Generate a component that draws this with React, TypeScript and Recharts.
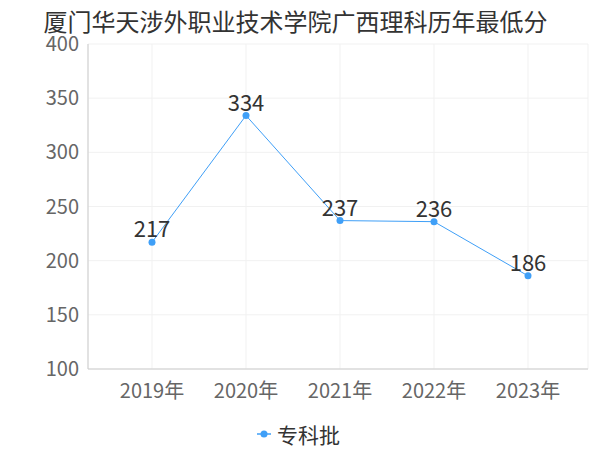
import React from "react";
import { LineChart, Line, XAxis, YAxis, CartesianGrid, LabelList } from "recharts";

const title = "厦门华天涉外职业技术学院广西理科历年最低分";
const years = ["2019年", "2020年", "2021年", "2022年", "2023年"];
const scores = [217, 334, 237, 236, 186];
const yTicks = [100, 150, 200, 250, 300, 350, 400];
const seriesName = "专科批";

const FONT = '"Noto Sans CJK SC", "Noto Sans", sans-serif';
const LINE_COLOR = "#3f9ff7";

const data = years.map((y, i) => ({ year: y, score: scores[i] }));

export default function App() {
  return (
    <div style={{ position: "fixed", left: 0, top: 0, width: 600, height: 450, background: "#fff", fontFamily: FONT }}>
      <div
        style={{
          position: "absolute",
          top: 11,
          left: 0,
          width: 591,
          textAlign: "center",
          fontSize: 24,
          lineHeight: "20px",
          color: "#333",
          whiteSpace: "nowrap",
        }}
      >
        {title}
      </div>
      <LineChart
        width={600}
        height={450}
        data={data}
        margin={{ top: 44, right: 12, bottom: 51, left: 0 }}
        style={{ fontFamily: FONT }}
      >
        <CartesianGrid stroke="#f1f1f1" vertical={true} horizontal={true} />
        <XAxis
          dataKey="year"
          height={30}
          padding={{ left: 64, right: 60 }}
          tickLine={false}
          tickSize={0}
          tickMargin={15}
          axisLine={{ stroke: "#cccccc" }}
          tick={{ fontSize: 20, fill: "#666", fontFamily: FONT }}
          interval={0}
        />
        <YAxis
          width={88}
          domain={[100, 400]}
          ticks={yTicks}
          type="number"
          allowDataOverflow
          tickLine={false}
          tickSize={0}
          tickMargin={9}
          axisLine={{ stroke: "#cccccc" }}
          tick={{ fontSize: 20, fill: "#666", fontFamily: FONT }}
        />
        <Line
          type="linear"
          dataKey="score"
          name={seriesName}
          stroke={LINE_COLOR}
          strokeWidth={1}
          dot={{ r: 3.5, fill: LINE_COLOR, stroke: "none" }}
          activeDot={false}
          isAnimationActive={false}
        >
          <LabelList dataKey="score" position="top" offset={5} fill="#333" fontSize={22} fontFamily={FONT} />
        </Line>
      </LineChart>
      <div
        style={{
          position: "absolute",
          top: 421,
          left: 256,
          height: 26,
          display: "flex",
          alignItems: "center",
          fontSize: 21,
          color: "#333",
          lineHeight: "26px",
        }}
      >
        <svg width={16} height={10} style={{ marginRight: 5 }}>
          <line x1={1} y1={5} x2={15} y2={5} stroke={LINE_COLOR} strokeWidth={1.5} />
          <circle cx={8} cy={5} r={3.5} fill={LINE_COLOR} />
        </svg>
        <span>{seriesName}</span>
      </div>
    </div>
  );
}
